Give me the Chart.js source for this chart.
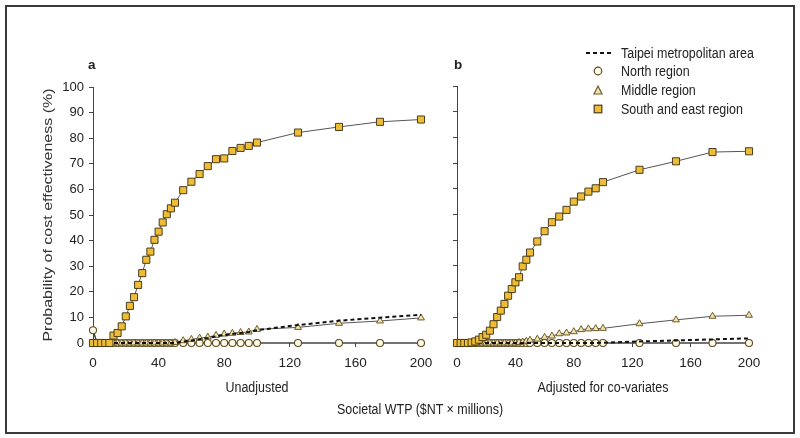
<!DOCTYPE html>
<html>
<head>
<meta charset="utf-8">
<script src="https://cdn.jsdelivr.net/npm/chart.js@4/dist/chart.umd.min.js"></script>
<style>
  body { margin: 0; background: #fff; }
  #page { position: relative; width: 800px; height: 438px; overflow: hidden; background: #fff;
          font-family: 'Liberation Sans', Arial, sans-serif; color: #222; }
  #frame { position: absolute; left: 5px; top: 5px; width: 790px; height: 429px;
           border: 2px solid #3a3a3a; box-sizing: border-box; }
  canvas { position: absolute; left: 0; top: 0; }
  .t { position: absolute; white-space: nowrap; line-height: 1; font-size: 14px; }
  .c { transform: translate(-50%, -50%) scaleX(0.89); }
  .legend-row { position: absolute; left: 586px; height: 18px; display: flex; align-items: center; }
  .legend-row svg { width: 28px; height: 14px; margin-right: 7px; }
  .legend-row span { font-size: 14px; display: inline-block; transform: scaleX(0.89); transform-origin: left center; }
</style>
</head>
<body>
<div id="page">
  <canvas id="chart-a" width="800" height="438"></canvas>
  <canvas id="chart-b" width="800" height="438"></canvas>
  <div id="frame"></div>

  <div class="t" style="left:88px; top:58px; font-weight:bold; font-size:13.5px;">a</div>
  <div class="t" style="left:454px; top:58px; font-weight:bold; font-size:13.5px;">b</div>

  <div class="t" style="left:48px; top:215px; font-size:16px; color:#333;
       transform: translate(-50%, -50%) rotate(-90deg) scaleY(0.8);">Probability of cost effectiveness (%)</div>

  <div class="t c" style="left:257px; top:387px;">Unadjusted</div>
  <div class="t c" style="left:603px; top:387px;">Adjusted for co-variates</div>
  <div class="t c" style="left:420px; top:409px;">Societal WTP ($NT × millions)</div>

  <div class="legend-row" style="top:44px;">
    <svg viewBox="0 0 28 14"><line x1="0" y1="7" x2="26" y2="7" stroke="#111" stroke-width="2" stroke-dasharray="4,3"/></svg>
    <span>Taipei metropolitan area</span>
  </div>
  <div class="legend-row" style="top:62px;">
    <svg viewBox="0 0 28 14"><circle cx="12" cy="7" r="3.8" fill="#fffbe6" stroke="#5c4b22" stroke-width="1.2"/></svg>
    <span>North region</span>
  </div>
  <div class="legend-row" style="top:81px;">
    <svg viewBox="0 0 28 14"><polygon points="12,3 16,11 8,11" fill="#f3e3a8" stroke="#6e5c2e" stroke-width="1.2"/></svg>
    <span>Middle region</span>
  </div>
  <div class="legend-row" style="top:100px;">
    <svg viewBox="0 0 28 14"><rect x="8.2" y="3.2" width="7.6" height="7.6" fill="#efbd35" stroke="#4a3d1c" stroke-width="1.2"/></svg>
    <span>South and east region</span>
  </div>
</div>

<script>
// WTP values on the x axis ($NT x millions)
const wtp = [0, 2.5, 5, 7.5, 10, 12.5, 15, 17.5, 20, 22.5, 25, 27.5, 30, 32.5, 35, 37.5, 40, 42.5, 45, 47.5, 50,
             55, 60, 65, 70, 75, 80, 85, 90, 95, 100, 125, 150, 175, 200];
const xTicks = [0, 40, 80, 120, 160, 200];
const yTicks = [0, 10, 20, 30, 40, 50, 60, 70, 80, 90, 100];

// --- Panel a: unadjusted ---
const southA = [0, 0, 0, 0, 0, 2.9, 3.9, 6.5, 10.4, 14.5, 17.9, 22.7, 27.3, 32.5, 35.7, 40.3, 43.5, 47.1, 50.3, 52.6, 54.8,
                59.7, 63, 66, 69.1, 71.8, 72.1, 75, 76.2, 77, 78.3, 82.2, 84.4, 86.4, 87.3];
const middleA = [0, 0, 0, 0, 0, 0, 0, 0, 0, 0, 0, 0, 0, 0, 0, 0, 0, 0, 0, 0, 0.2,
                 0.9, 1.4, 1.9, 2.3, 3, 3.5, 3.8, 4.1, 4.3, 5.3, 6.1, 7.7, 8.6, 9.8];
const taipeiA = [0, 0, 0, 0, 0, 0, 0, 0, 0, 0, 0, 0, 0, 0, 0, 0, 0, 0, 0, 0, 0,
                 0.5, 1, 1.5, 2, 2.6, 3.1, 3.5, 3.9, 4.3, 5, 7, 8.7, 9.9, 11];
const northA = [5, 0, 0, 0, 0, 0, 0, 0, 0, 0, 0, 0, 0, 0, 0, 0, 0, 0, 0, 0, 0,
                0, 0, 0, 0, 0, 0, 0, 0, 0, 0, 0, 0, 0, 0];

// --- Panel b: adjusted for co-variates ---
const southB = [0, 0, 0, 0, 0.2, 0.6, 1.3, 2.3, 3.2, 4.8, 7.3, 10.1, 12.6, 15.2, 18.4, 21, 23.6, 25.6, 29.8, 32.4, 35.2,
                39.5, 43.5, 47, 49.2, 51.8, 55, 57, 58.9, 60.2, 62.6, 67.4, 70.7, 74.3, 74.6];
const middleB = [0, 0, 0, 0, 0, 0, 0, 0, 0, 0, 0, 0, 0, 0, 0, 0, 0, 0.2, 0.4, 0.7, 1.1,
                 1.5, 2.2, 2.7, 3.6, 3.9, 4.4, 5.2, 5.5, 5.6, 5.7, 7.5, 9, 10.4, 10.8];
const taipeiB = [0, 0, 0, 0, 0, 0, 0, 0, 0, 0, 0, 0, 0, 0, 0, 0, 0, 0, 0, 0, 0,
                 0, 0, 0, 0, 0, 0, 0, 0, 0, 0.1, 0.6, 1, 1.4, 1.8];
const northB = [0, 0, 0, 0, 0, 0, 0, 0, 0, 0, 0, 0, 0, 0, 0, 0, 0, 0, 0, 0, 0,
                0, 0, 0, 0, 0, 0, 0, 0, 0, 0, 0, 0, 0, 0];

const FONT = "'Liberation Sans', Arial, sans-serif";
const AXIS = '#444';

const toPoints = vals => wtp.map((x, i) => ({ x, y: vals[i] }));

function buildDatasets(south, middle, taipei, north) {
    // lower order = drawn on top
    return [
        {
            label: 'South and east region', data: toPoints(south), order: 0,
            borderColor: '#555', borderWidth: 1,
            pointStyle: 'rect', pointRadius: 5,
            pointBackgroundColor: '#efbd35', pointBorderColor: '#4a3d1c', pointBorderWidth: 1
        },
        {
            label: 'Taipei metropolitan area', data: toPoints(taipei), order: 1,
            borderColor: '#111', borderWidth: 2, borderDash: [4, 3], pointRadius: 0
        },
        {
            label: 'Middle region', data: toPoints(middle), order: 2,
            borderColor: '#555', borderWidth: 1,
            pointStyle: 'triangle', pointRadius: 4,
            pointBackgroundColor: '#f3e3a8', pointBorderColor: '#6e5c2e', pointBorderWidth: 1
        },
        {
            label: 'North region', data: toPoints(north), order: 3,
            borderColor: '#444', borderWidth: 1.5,
            pointStyle: 'circle', pointRadius: 3.5,
            pointBackgroundColor: '#fffbe6', pointBorderColor: '#5c4b22', pointBorderWidth: 1.1
        }
    ];
}

function makeChart(canvasId, datasets, padding, yWidth, showYLabels) {
    return new Chart(document.getElementById(canvasId), {
        type: 'line',
        data: { datasets: datasets.map(d => ({ ...d, fill: false, tension: 0, clip: false })) },
        options: {
            responsive: false,
            animation: false,
            layout: { padding },
            plugins: { legend: { display: false }, tooltip: { enabled: false } },
            scales: {
                x: {
                    type: 'linear', min: 0, max: 200,
                    afterFit: s => { s.height = 30; },
                    afterBuildTicks: s => { s.ticks = xTicks.map(v => ({ value: v })); },
                    border: { display: false },
                    grid: { drawOnChartArea: false, drawTicks: true, tickLength: 4, color: AXIS, lineWidth: 1 },
                    ticks: { color: '#222', padding: 8, font: { family: FONT, size: 13.5 }, maxRotation: 0 }
                },
                y: {
                    min: 0, max: 100,
                    afterFit: s => { s.width = yWidth; },
                    afterBuildTicks: s => { s.ticks = yTicks.map(v => ({ value: v })); },
                    border: { display: true, color: AXIS, width: 1 },
                    grid: { drawOnChartArea: false, drawTicks: true, tickLength: 4, color: AXIS, lineWidth: 1 },
                    ticks: {
                        color: '#222', padding: 5, font: { family: FONT, size: 13 },
                        callback: v => showYLabels ? v : ''
                    }
                }
            }
        }
    });
}

makeChart('chart-a', buildDatasets(southA, middleA, taipeiA, northA),
          { left: 63, right: 379, top: 87, bottom: 65 }, 30, true);
makeChart('chart-b', buildDatasets(southB, middleB, taipeiB, northB),
          { left: 451, right: 51, top: 86, bottom: 65 }, 6, false);
</script>
</body>
</html>
